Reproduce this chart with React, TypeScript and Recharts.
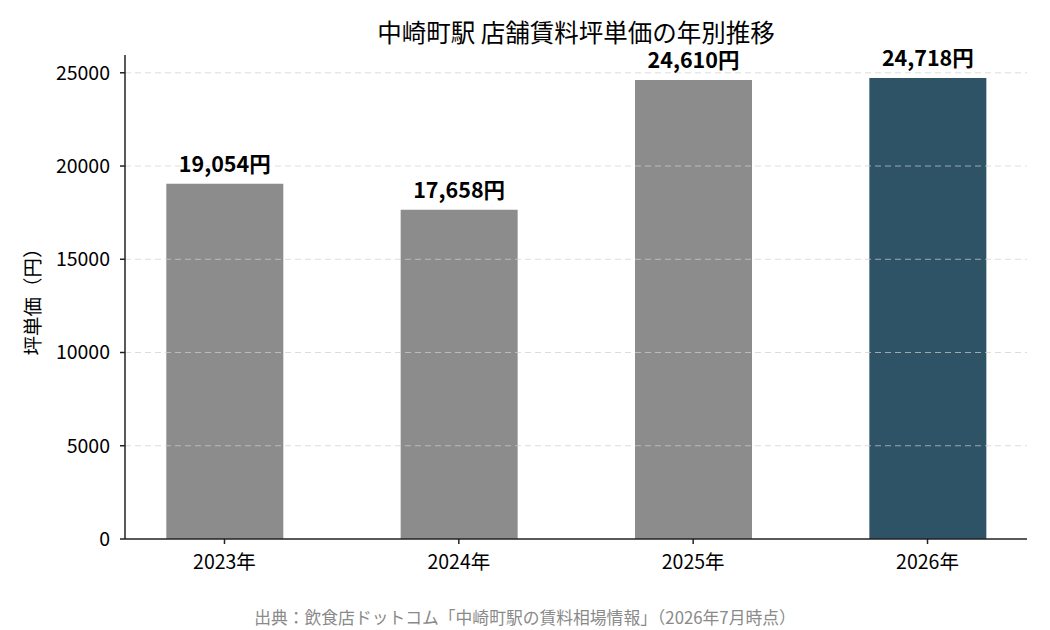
import React from 'react'
import { BarChart, Bar, XAxis, YAxis, ReferenceLine, LabelList, Cell } from 'recharts'

const years = ['2023年', '2024年', '2025年', '2026年']
const prices = [19054, 17658, 24610, 24718]
const yTicks = [0, 5000, 10000, 15000, 20000, 25000]
const barColors = ['#8c8c8c', '#8c8c8c', '#8c8c8c', '#2e5266']

const data = years.map((year, i) => ({ idx: i, year, price: prices[i] }))

const FONT = '"Noto Sans CJK JP", "Noto Sans", sans-serif'

const renderLabel = (props: any) => {
  const { x, y, width, value } = props
  return (
    <text
      x={x + width / 2}
      y={y - 12}
      textAnchor="middle"
      fontSize={21.5}
      fontWeight="bold"
      fill="#000"
      fontFamily={FONT}
    >
      {value.toLocaleString('en-US')}円
    </text>
  )
}

export default function App() {
  const yMax = Math.max(...prices) * 1.05
  return (
    <div style={{ position: 'absolute', left: 0, top: 0, width: 1050, height: 630, background: '#fff', fontFamily: FONT }}>
      <div style={{ position: 'absolute', left: 125, width: 902, top: 20, textAlign: 'center', fontSize: 24.5, lineHeight: '24px', color: '#000' }}>
        中崎町駅 店舗賃料坪単価の年別推移
      </div>
      <BarChart
        width={1050}
        height={630}
        data={data}
        margin={{ top: 55, right: 23, bottom: 51, left: 0 }}
      >
        <XAxis
          type="number"
          dataKey="idx"
          domain={[-0.4245, 3.4245]}
          ticks={[0, 1, 2, 3]}
          tickFormatter={(v: number) => years[v]}
          height={40}
          stroke="#222"
          strokeWidth={1.5}
          tickSize={5}
          tickMargin={11}
          tick={{ fontSize: 19.5, fill: '#000', fontFamily: FONT }}
          allowDataOverflow
        />
        <YAxis
          domain={[0, yMax]}
          ticks={yTicks}
          width={125}
          stroke="#222"
          strokeWidth={1.5}
          tickSize={5}
          tickMargin={10}
          interval={0}
          tick={{ fontSize: 19.5, fill: '#000', fontFamily: FONT }}
          label={{
            value: '坪単価（円）',
            angle: -90,
            position: 'insideLeft',
            offset: 33,
            style: { fontSize: 19.5, fill: '#000', fontFamily: FONT, textAnchor: 'middle' },
          }}
          allowDataOverflow
        />
        <Bar dataKey="price" barSize={117} isAnimationActive={false}>
          {data.map((d, i) => (
            <Cell key={d.year} fill={barColors[i]} />
          ))}
          <LabelList dataKey="price" content={renderLabel} />
        </Bar>
        {yTicks.slice(1).map((t) => (
          <ReferenceLine key={t} y={t} stroke="#cfcfcf" strokeOpacity={0.7} strokeDasharray="6 4" />
        ))}
      </BarChart>
      <div style={{ position: 'absolute', left: 0, width: 1050, top: 605, textAlign: 'center', fontSize: 16.8, lineHeight: '24px', color: '#8a8a8a' }}>
        出典：飲食店ドットコム「中崎町駅の賃料相場情報」（2026年7月時点）
      </div>
    </div>
  )
}
